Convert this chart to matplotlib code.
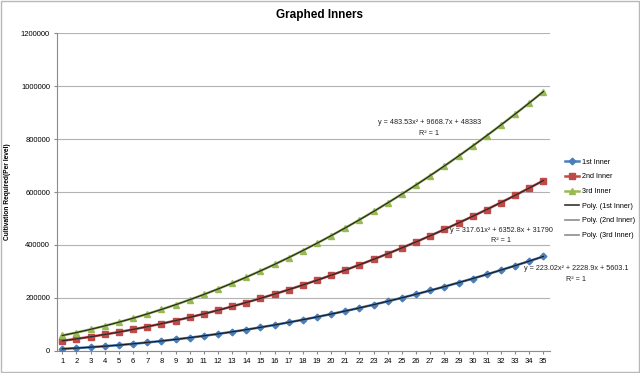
import numpy as np
import matplotlib
matplotlib.use("Agg")
from matplotlib import pyplot as plt
from matplotlib.patches import Rectangle

plt.rcParams["font.family"] = ["Liberation Sans", "DejaVu Sans"]

# niveaux 1 a 35
levels = list(range(1, 36))

inner1 = [8055, 10953, 14297, 18087, 22323, 27005, 32133, 37708, 43728, 50194,
          57106, 64465, 72269, 80520, 89216, 98359, 107947, 117982, 128462, 139389,
          150762, 162581, 174845, 187556, 200713, 214316, 228365, 242860, 257801, 273188,
          289021, 305300, 322026, 339197, 356814]
inner2 = [38460, 45766, 53707, 62283, 71494, 81341, 91822, 102939, 114692, 127079,
          140102, 153759, 168052, 182981, 198544, 214743, 231577, 249046, 267150, 285890,
          305265, 325275, 345920, 367201, 389116, 411667, 434853, 458675, 483131, 508223,
          533950, 560312, 587310, 614942, 643210]
inner3 = [58535, 69655, 81741, 94794, 108815, 123802, 139757, 156679, 174567, 193423,
          213246, 234036, 255793, 278517, 302208, 326866, 352491, 379083, 406643, 435169,
          464662, 495123, 526550, 558945, 592307, 626635, 661931, 698194, 735424, 773621,
          812785, 852916, 894014, 936079, 979112]

names = ["1st Inner", "2nd Inner", "3rd Inner"]
equations = ["y = 223.02x² + 2228.9x + 5603.1",
             "y = 317.61x² + 6352.8x + 31790",
             "y = 483.53x² + 9668.7x + 48383"]
yticks = [0, 200000, 400000, 600000, 800000, 1000000, 1200000]

fig = plt.figure(figsize=(6.4, 3.73), dpi=100)
fig.patches.append(Rectangle((0.002, 0.003), 0.996, 0.994, transform=fig.transFigure,
                             fill=False, edgecolor="#b8b8b8", lw=1))
ax = fig.add_axes([0.089, 0.059, 0.77, 0.8525])

colors = ["#4A7EBB", "#BE4B48", "#98B954"]
markers = ["D", "s", "^"]
msizes = [3.4, 4.5, 4.8]
series = [inner1, inner2, inner3]

handles = []
for s, c, m, ms, n in zip(series, colors, markers, msizes, names):
    h, = ax.plot(levels, s, color=c, lw=1.8, marker=m, markersize=ms,
                 markeredgecolor=c, label=n, zorder=3)
    handles.append(h)

# courbes de tendance polynomiales (ordre 2), comme dans Excel
xx = np.linspace(1, 35, 300)
tcolors = ["#1e1e1e", "#2a2a2a", "#2a2a2a"]
lcolors = ["#333333", "#8c8c8c", "#8c8c8c"]
for s, tc, lc, n in zip(series, tcolors, lcolors, names):
    p = np.polyfit(levels, s, 2)
    ax.plot(xx, np.polyval(p, xx), color=tc, lw=0.9, zorder=4)
    h, = ax.plot([], [], color=lc, lw=1.2, label="Poly. (" + n + ")")
    handles.append(h)

# equations des courbes
eq_pos = [(37.3, 311000, 270000), (32.0, 455000, 416000), (26.95, 862000, 821000)]
for eq, (x, y1, y2) in zip(equations, eq_pos):
    ax.text(x, y1, eq, fontsize=5.2, ha="center", va="center", clip_on=False,
            color="#222222")
    ax.text(x, y2, "R² = 1", fontsize=5.2, ha="center", va="center", clip_on=False,
            color="#222222")

ax.set_xlim(0.62, 35.45)
ax.set_ylim(0, 1200000)
ax.set_xticks(levels)
ax.set_xticklabels([str(v) for v in levels], fontsize=5.5)
ax.set_yticks(yticks)
ax.set_yticklabels([str(v) for v in yticks], fontsize=5.5)
ax.tick_params(axis="both", length=2, color="#888888", pad=3)
ax.grid(axis="y", color="#b3b3b3", lw=0.8)
ax.set_axisbelow(True)
for sp in ["top", "right"]:
    ax.spines[sp].set_visible(False)
for sp in ["left", "bottom"]:
    ax.spines[sp].set_color("#8c8c8c")
    ax.spines[sp].set_linewidth(0.8)

ax.set_ylabel("Cultivation Required(Per level)", fontsize=4.8, fontweight="bold",
              labelpad=7)
fig.suptitle("Graphed Inners", fontsize=8.5, fontweight="bold", y=0.975)

fig.legend(handles=handles, loc="upper left", bbox_to_anchor=(0.878, 0.582),
           fontsize=5.2, frameon=False, handlelength=2.0, labelspacing=1.05,
           handletextpad=0.4, borderaxespad=0)

fig.savefig("out.png", dpi=100)
